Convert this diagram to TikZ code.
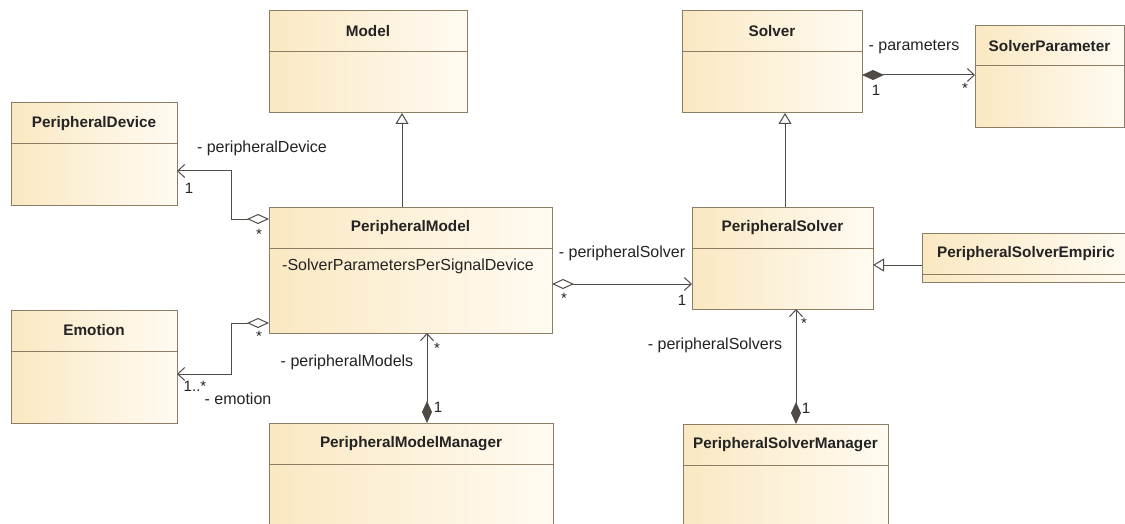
\documentclass[tikz,border=0pt]{standalone}
\usepackage{fontspec}
\setmainfont{Liberation Sans}
\usetikzlibrary{arrows.meta}
\definecolor{boxL}{RGB}{250,232,194}
\definecolor{boxR}{RGB}{255,251,242}
\definecolor{bord}{RGB}{140,125,100}
\definecolor{linec}{RGB}{80,75,68}
\definecolor{txt}{RGB}{35,35,35}
\tikzset{
  cls/.style={draw=bord, line width=1pt, left color=boxL, right color=boxR, anchor=north west, inner sep=0pt, outer sep=0pt},
  divl/.style={draw=bord, line width=1pt},
  ttl/.style={font=\fontsize{15.3}{18}\selectfont\bfseries, text=txt, inner sep=0pt},
  lbl/.style={font=\fontsize{16}{19}\selectfont, text=txt, inner sep=0pt},
  mult/.style={font=\fontsize{15}{18}\selectfont, text=txt, inner sep=0pt},
  conn/.style={draw=linec, line width=1pt},
  gen/.style={conn, -{Triangle[length=11pt,width=13pt,fill=white,line width=1pt]}},
  aggr/.style={conn, {Diamond[length=22pt,width=10pt,fill=white,line width=1pt]}-{Straight Barb[length=7pt,width=13pt,line width=1pt]}},
  comp/.style={conn, {Diamond[length=22pt,width=10pt,fill=linec,line width=1pt]}-{Straight Barb[length=7pt,width=13pt,line width=1pt]}}
}
\newcommand\umlclass[7]{%
  \node[cls, minimum width={(#4-#2)*1pt}, minimum height={(#5-#3)*1pt}] (#1) at (#2,#3) {};
  \draw[divl] ([yshift={-#6*1pt}]#1.north west) -- ([yshift={-#6*1pt}]#1.north east);
  \node[ttl] (#1-t) at ([yshift={-#6*0.5pt}]#1.north) {#7};
}
\begin{document}
\begin{tikzpicture}[x=1pt,y=-1pt]
\useasboundingbox (0,0) rectangle (1125,524);
\clip (0,0) rectangle (1125,524);
\fill[white] (0,0) rectangle (1125,524);

\umlclass{model}{269}{11}{467}{113}{41}{Model}
\umlclass{solver}{682}{11}{862}{113}{41}{Solver}
\umlclass{sp}{975}{26}{1124}{128}{40}{SolverParameter}
\umlclass{pd}{11}{103}{177}{205}{41}{PeripheralDevice}
\umlclass{pm}{269}{207}{552}{333}{41}{PeripheralModel}
\umlclass{ps}{692}{207}{873}{309}{41}{PeripheralSolver}
\umlclass{pse}{922}{233}{1130}{282}{41}{PeripheralSolverEmpiric}
\umlclass{em}{11}{310}{177}{423}{41}{Emotion}
\umlclass{pmm}{269}{423}{553}{540}{41}{PeripheralModelManager}
\umlclass{psm}{683}{424}{888}{540}{41}{PeripheralSolverManager}

\node[lbl] (attr) at (408,266) {-SolverParametersPerSignalDevice};

% helper coordinates
\coordinate (gx) at (402,0);
\coordinate (sx) at (785,0);
\coordinate (ex) at (231,0);
\coordinate (mx) at (427,0);
\coordinate (sx2) at (796,0);
\coordinate (e1) at ([yshift=-32pt]pse.north west);
\coordinate (s1) at ([yshift=-64pt]solver.north east);
\coordinate (m1) at ([yshift=-77pt]pm.north east);
\coordinate (p1) at ([yshift=-12pt]pm.north west);
\coordinate (p2) at ([yshift=-68pt]pd.north east);
\coordinate (q1) at ([yshift=-116pt]pm.north west);
\coordinate (q2) at ([yshift=-64pt]em.north east);

% generalizations
\draw[gen] (pm.north -| gx) -- (model.south -| gx);
\draw[gen] (ps.north -| sx) -- (solver.south -| sx);
\draw[gen] (e1) -- (e1 -| ps.east);

% associations
\draw[comp] (s1) -- (s1 -| sp.west);
\draw[aggr] (m1) -- (m1 -| ps.west);
\draw[aggr] (p1) -- (p1 -| ex) |- (p2);
\draw[aggr] (q1) -- (q1 -| ex) |- (q2);
\draw[comp] (pmm.north -| mx) -- (pm.south -| mx);
\draw[comp] (psm.north -| sx2) -- (ps.south -| sx2);

% labels
\node[lbl] (l1) at (262,148) {- peripheralDevice};
\node[mult] (l1a) at (189,188) {1};
\node[mult] (l1b) at (259,234) {*};
\node[mult] (l2b) at (259,336) {*};
\node[mult] (l2a) at (195,386) {1..*};
\node[lbl] (l2) at (238,399) {- emotion};
\node[lbl] (l3) at (622,253) {- peripheralSolver};
\node[mult] (l3b) at (564,298) {*};
\node[mult] (l3a) at (682,300) {1};
\node[lbl] (l4) at (914,47) {- parameters};
\node[mult] (l4a) at (876,90) {1};
\node[mult] (l4b) at (965,88) {*};
\node[lbl] (l5) at (347,362) {- peripheralModels};
\node[mult] (l5b) at (437,348) {*};
\node[mult] (l5a) at (438,407) {1};
\node[lbl] (l6) at (715,345) {- peripheralSolvers};
\node[mult] (l6b) at (804,323) {*};
\node[mult] (l6a) at (806,408) {1};
\end{tikzpicture}
\end{document}
